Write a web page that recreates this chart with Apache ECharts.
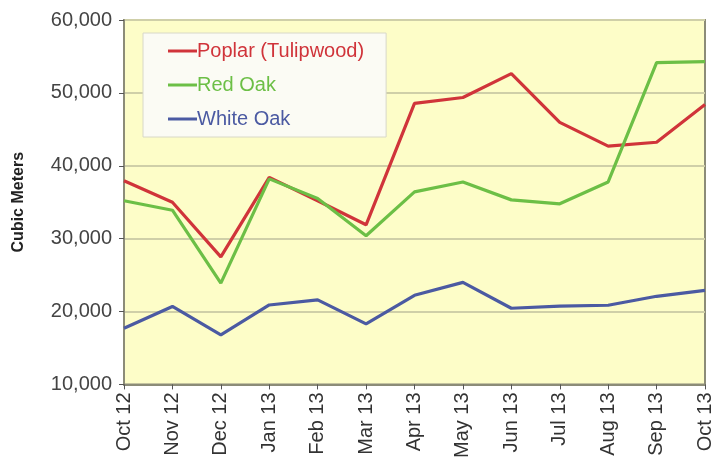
<!DOCTYPE html>
<html><head><meta charset="utf-8">
<script src="https://cdn.jsdelivr.net/npm/echarts@6/dist/echarts.min.js"></script>
<style>html,body{margin:0;padding:0;background:#fff}#c{width:715px;height:461px}</style>
</head><body><div id="c"></div>
<script>
const categories = ["Oct 12","Nov 12","Dec 12","Jan 13","Feb 13","Mar 13","Apr 13","May 13","Jun 13","Jul 13","Aug 13","Sep 13","Oct 13"];
const poplar = [37950,35000,27500,38400,35200,31900,48550,49370,52640,45960,42690,43230,48420];
const redOak = [35200,33900,23900,38200,35500,30400,36410,37780,35320,34780,37780,54140,54280];
const whiteOak = [17700,20700,16800,20900,21600,18300,22230,24000,20450,20730,20860,22090,22910];
const seriesNames = ["Poplar (Tulipwood)","Red Oak","White Oak"];
const colors = ["#d0343a","#6cbf46","#4b5aa2"];

const chart = echarts.init(document.getElementById('c'));
const mk = (name, data, color) => ({
  name, type: 'line', data, symbol: 'none',
  lineStyle: {color, width: 3.2}, itemStyle: {color}
});
chart.setOption({
  animation: false,
  grid: {left: 124, right: 5, top: 20, bottom: 76, show: true,
         backgroundColor: '#fdfdc8', borderColor: '#8c8c78', borderWidth: 2},
  legend: {
    orient: 'vertical', left: 143, top: 33,
    itemWidth: 29, itemHeight: 3, itemGap: 14, icon: 'rect',
    backgroundColor: '#fbfbf4', borderColor: '#d8d8c8', borderWidth: 1,
    padding: [8, 22, 8, 25],
    data: seriesNames.map((n, i) => ({name: n, textStyle: {color: colors[i]}})),
    textStyle: {fontFamily: 'Arial, Liberation Sans', fontSize: 20, padding: [0,0,0,-5]}
  },
  xAxis: {
    type: 'category', data: categories, boundaryGap: false,
    axisLine: {lineStyle: {color: '#8c8c78', width: 2}},
    axisTick: {show: true, length: 5, lineStyle: {color: '#555'}},
    axisLabel: {rotate: 90, color: '#333', fontSize: 20, fontFamily: 'Arial, Liberation Sans', margin: 8},
    splitLine: {show: false}
  },
  yAxis: {
    type: 'value', min: 10000, max: 60000, interval: 10000,
    name: 'Cubic Meters', nameLocation: 'middle', nameGap: 97, nameRotate: 90,
    nameTextStyle: {fontWeight: 'bold', fontSize: 16, color: '#222', fontFamily: 'Arial, Liberation Sans'},
    axisLine: {show: true, lineStyle: {color: '#8c8c78', width: 2}},
    axisTick: {show: true, length: 5, lineStyle: {color: '#555'}},
    axisLabel: {color: '#444', fontSize: 20, fontFamily: 'Arial, Liberation Sans', margin: 12,
                formatter: v => v.toLocaleString('en-US')},
    splitLine: {lineStyle: {color: '#cfcfa8', width: 2}}
  },
  series: [mk(seriesNames[0], poplar, colors[0]), mk(seriesNames[1], redOak, colors[1]), mk(seriesNames[2], whiteOak, colors[2])]
});
</script></body></html>
